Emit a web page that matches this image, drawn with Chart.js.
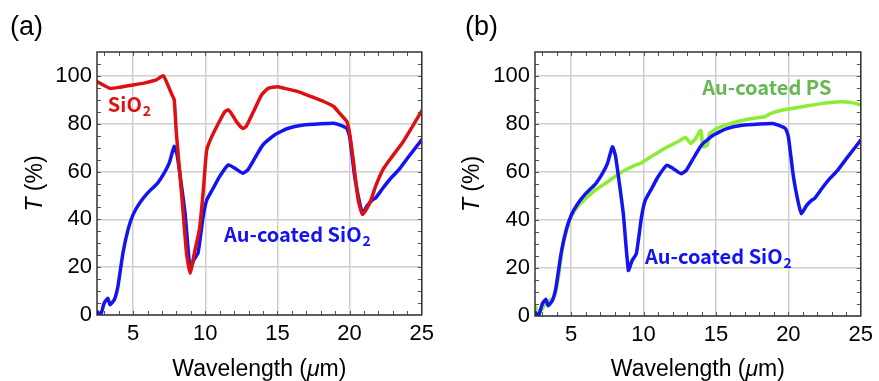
<!DOCTYPE html>
<html><head><meta charset="utf-8">
<script src="https://cdn.jsdelivr.net/npm/chart.js@4.4.1/dist/chart.umd.min.js"></script>
<style>
html,body{margin:0;padding:0;background:#fff;}
#wrap{position:relative;width:879px;height:381px;overflow:hidden;}
canvas{position:absolute;top:0;}
</style></head>
<body><div id="wrap"><canvas id="ca" width="440" height="381" style="left:0"></canvas><canvas id="cb" width="439" height="381" style="left:440px"></canvas></div>
<script>
// ---- data ----
const lambdaSiO2 = [2.5,3.4,4.1,5,5.9,6.6,7.1,7.7,7.85,8.0,8.4,8.7,8.95,9.25,9.6,9.85,10.1,10.45,10.9,11.35,11.6,11.8,12.15,12.6,12.85,13.4,13.9,14.35,15,15.5,16.4,17.3,18.2,18.9,19.3,19.8,20.0,20.25,20.6,20.9,21.4,21.8,22.3,22.95,23.65,24.35,25];
const tSiO2 = [97.6,94.8,95.3,96.2,97.2,98.3,100.1,92,90,76,48,26,17.5,26,36,51,69,74.6,80,85,85.8,84.4,81,78,79,85.8,92,94.8,95.5,94.8,93.5,91.4,89.3,87.2,84.4,81,76,65,48,42,46.8,53.8,60.7,66.3,71.9,78.8,85.4];

const lambdaAuSiO2 = [2.5,2.75,3.0,3.25,3.4,3.7,3.95,4.3,4.65,5,5.45,6.0,6.7,7.15,7.5,7.85,8.05,8.3,8.6,8.95,9.2,9.5,9.85,10.1,10.55,11.0,11.6,12.05,12.6,12.95,13.5,14.0,14.8,15.7,16.8,18.0,18.9,19.3,19.8,20.0,20.35,20.7,20.9,21.25,21.6,21.8,22.3,22.85,23.4,24.1,25];
const tAuSiO2 = [1.5,0.1,5,7,4.3,6.4,12,26,35.7,42,46.8,51,55.2,59.3,63.5,70.5,67,56.5,42.6,19,23,26,41,48,53,58,62.8,61.4,59.3,60.7,66.3,71.2,75.3,78,79.5,80,80.2,79.5,78.1,74.7,58,46.8,42.6,46,48.2,48.9,53,57.2,60.7,66.3,73.3];

const lambdaAuPS = [2.5,2.7,3.0,3.25,3.5,3.7,3.9,4.15,4.4,4.7,5.05,5.5,6.0,6.65,7.35,8.0,8.7,9.4,9.75,10.5,11.45,12.35,12.9,13.25,13.6,13.95,14.1,14.4,14.55,15.05,16.0,17.1,18.35,18.8,19.6,21.0,22.35,23.6,24.4,25];
const tAuPS = [4.3,1.5,3,5.7,6.4,7.1,9.2,17.5,28.7,36.4,42,46,49,52.4,55.2,58,60.7,62.8,63.5,66.3,69.8,72.6,74.4,71.9,74,77.4,70.5,71.2,76,78.1,80.2,81.9,83,84.4,85.8,87.2,88.6,89.3,88.9,87.9];

const xTicks = [5,10,15,20,25];
const yTicks = [0,20,40,60,80,100];
const xMinor = [3,4,5,6,7,8,9,10,11,12,13,14,15,16,17,18,19,20,21,22,23,24];
const yMinor = [5,10,15,20,25,30,35,40,45,50,55,60,65,70,75,80,85,90,95,100,105];

const RED = '#dd1111', BLUE = '#1414f0', GREEN = '#8aee33', GREEN_TXT = '#66b852';
const FONT = '"Liberation Sans", Arial, sans-serif';
const LFONT = '"Noto Sans CJK JP", "Noto Sans", sans-serif';

function pts(xs, ys){ return xs.map((v,i)=>({x:v,y:ys[i]})); }

function makeChart(id, datasets, opts){
  const framePlugin = {
    id:'frame',
    afterDatasetsDraw(chart){
      const {ctx, chartArea:{left,right,top,bottom}, scales:{x,y}} = chart;
      ctx.save();
      ctx.strokeStyle = '#555'; ctx.lineWidth = 1;
      ctx.beginPath();
      xMinor.forEach(v=>{ const p = Math.round(x.getPixelForValue(v))+0.5;
        ctx.moveTo(p,bottom); ctx.lineTo(p,bottom-4); ctx.moveTo(p,top); ctx.lineTo(p,top+4); });
      yMinor.forEach(v=>{ const p = Math.round(y.getPixelForValue(v))+0.5;
        ctx.moveTo(left,p); ctx.lineTo(left+4,p); ctx.moveTo(right,p); ctx.lineTo(right-4,p); });
      ctx.stroke();
      ctx.strokeStyle = '#333'; ctx.lineWidth = 1.5;
      ctx.strokeRect(left, top, right-left, bottom-top);
      // in-plot labels
      opts.labels.forEach(L=>{
        const px = x.getPixelForValue(L.x), py = y.getPixelForValue(L.y);
        ctx.fillStyle = L.color; ctx.textBaseline = 'alphabetic'; ctx.textAlign='left';
        ctx.font = 'bold 20px ' + LFONT;
        ctx.fillText(L.text, px, py);
        if (L.sub){
          const w = ctx.measureText(L.text).width;
          ctx.font = 'bold 14px ' + LFONT;
          ctx.fillText(L.sub, px + w + 1, py + 4);
        }
      });
      // axis titles
      ctx.fillStyle = '#000';
      const TS = '23px ', TI = 'italic 23px ';
      const a = 'Wavelength (', b = 'm)';
      ctx.font = TS + FONT; const wa = ctx.measureText(a).width, wb = ctx.measureText(b).width;
      ctx.font = TI + FONT; const wm = ctx.measureText('\u03bc').width;
      let sx = (left+right)/2 - (wa+wm+wb)/2, ty = 376;
      ctx.textAlign='left'; ctx.textBaseline='alphabetic';
      ctx.font = TS + FONT; ctx.fillText(a, sx, ty);
      ctx.font = TI + FONT; ctx.fillText('\u03bc', sx+wa, ty);
      ctx.font = TS + FONT; ctx.fillText(b, sx+wa+wm, ty);
      ctx.save();
      ctx.translate(opts.ytitleX, (top+bottom)/2);
      ctx.rotate(-Math.PI/2);
      ctx.font = TI + FONT; const wt = ctx.measureText('T').width;
      ctx.font = TS + FONT; const wp = ctx.measureText(' (%)').width;
      ctx.textBaseline = 'middle';
      ctx.font = TI + FONT; ctx.fillText('T', -(wt+wp)/2, 0);
      ctx.font = TS + FONT; ctx.fillText(' (%)', -(wt+wp)/2 + wt, 0);
      ctx.restore();
      ctx.font = '27px ' + FONT; ctx.textBaseline='alphabetic';
      ctx.fillText(opts.panel, opts.panelX, 35);
      ctx.restore();
    }
  };
  return new Chart(document.getElementById(id), {
    type:'line',
    data:{datasets},
    options:{
      responsive:false, animation:false, devicePixelRatio:1,
      plugins:{legend:{display:false}, tooltip:{enabled:false}},
      layout:{padding:0},
      elements:{point:{radius:0}, line:{borderWidth:3.5, tension:0.15, borderJoinStyle:'round', borderCapStyle:'round'}},
      scales:{
        x:{type:'linear', position:'bottom', min:2.5, max:25,
           afterBuildTicks(s){ s.ticks = xTicks.map(v=>({value:v})); },
           afterFit(s){ s.height = 381-opts.bottom; },
           grid:{color:'#cfcfcf', lineWidth:1.5, drawTicks:false},
           border:{display:false},
           ticks:{color:'#000', padding:6, font:{family:FONT, size:22}, maxRotation:0}},
        x2:{type:'linear', position:'top', min:2.5, max:25, display:true,
           afterFit(s){ s.height = opts.top; },
           grid:{display:false}, border:{display:false}, ticks:{display:false}},
        y:{type:'linear', position:'left', min:0, max:110,
           afterBuildTicks(s){ s.ticks = yTicks.map(v=>({value:v})); },
           afterFit(s){ s.width = opts.left; },
           grid:{color:'#cfcfcf', lineWidth:1.5, drawTicks:false},
           border:{display:false},
           ticks:{color:'#000', padding:5, font:{family:FONT, size:22}}},
        y2:{type:'linear', position:'right', min:0, max:110, display:true,
           afterFit(s){ s.width = opts.right; },
           grid:{display:false}, border:{display:false}, ticks:{display:false}}
      }
    },
    plugins:[framePlugin]
  });
}

makeChart('ca', [
  {data:pts(lambdaSiO2,tSiO2), borderColor:RED},
  {data:pts(lambdaAuSiO2,tAuSiO2), borderColor:BLUE}
], {left:97, right:13, top:52, bottom:315, ytitleX:36, panel:'(a)', panelX:10,
    labels:[{text:'SiO', sub:'2', color:RED, x:3.25, y:85},
            {text:'Au-coated SiO', sub:'2', color:BLUE, x:11.3, y:30.5}]});

makeChart('cb', [
  {data:pts(lambdaAuSiO2,tAuSiO2), borderColor:BLUE},
  {data:pts(lambdaAuPS,tAuPS), borderColor:GREEN}
], {left:95, right:14, top:52, bottom:316, ytitleX:33, panel:'(b)', panelX:25,
    labels:[{text:'Au-coated PS', color:GREEN_TXT, x:14.05, y:92},
            {text:'Au-coated SiO', sub:'2', color:BLUE, x:10.1, y:21.7}]});
</script></body></html>
